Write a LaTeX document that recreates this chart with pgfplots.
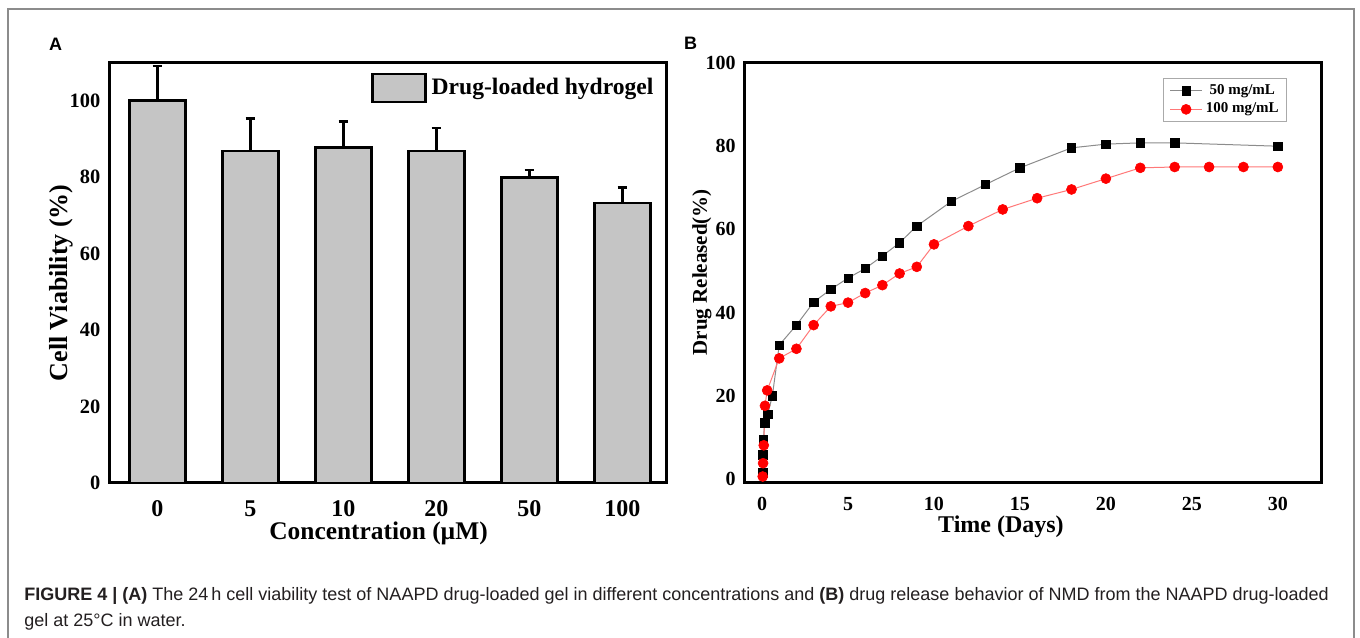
\documentclass[border=0pt]{standalone}
\usepackage{fontspec}
\setmainfont{Liberation Serif}
\newfontfamily\capfont{Liberation Sans}
\usepackage{pgfplots}
\pgfplotsset{compat=1.18}
\definecolor{bargray}{RGB}{197,197,197}
\definecolor{framegray}{RGB}{140,140,140}
\definecolor{capcol}{RGB}{35,31,32}
\definecolor{linegray}{RGB}{140,140,140}
\definecolor{linered}{RGB}{255,120,120}
\definecolor{legframe}{RGB}{170,170,170}
\begin{document}
\begin{tikzpicture}
\path[use as bounding box, fill=white] (0,0) rectangle (680bp,319bp);
\draw[framegray, line width=0.75bp] (4bp,-2bp) -- (4bp,314.5bp) -- (677bp,314.5bp) -- (677bp,-2bp);
\node[font=\capfont\bfseries\fontsize{9bp}{10bp}\selectfont, inner sep=0] at (27.75bp,297bp) {A};
\node[font=\capfont\bfseries\fontsize{9bp}{10bp}\selectfont, inner sep=0] at (345.25bp,297.25bp) {B};

% Panel A
\begin{axis}[
  at={(54.5bp,77.5bp)}, anchor=south west, scale only axis,
  width=278.5bp, height=210.25bp,
  xmin=-0.52, xmax=5.47, ymin=0, ymax=110,
  axis line style={line width=1.5bp},
  major tick length=0,
  ytick={0,20,40,60,80,100},
  xtick={0,1,2,3,4,5}, xticklabels={0,5,10,20,50,100},
  /pgf/number format/assume math mode=true,
  xticklabel style={font=\bfseries\fontsize{12bp}{14bp}\selectfont, inner sep=0, anchor=north, yshift=-8.5bp},
  yticklabel style={font=\bfseries\fontsize{10.2bp}{12bp}\selectfont, inner sep=0, anchor=east, xshift=-4.2bp},
  xlabel={Concentration (µM)},
  ylabel={Cell Viability (\%)},
  xlabel style={font=\bfseries\fontsize{12.7bp}{15bp}\selectfont, at={(axis description cs:0.484,-0.119)}, anchor=center, inner sep=0},
  ylabel style={font=\bfseries\fontsize{13bp}{15bp}\selectfont, at={(axis description cs:-0.086,0.476)}, anchor=center, inner sep=0, rotate=0},
  legend style={draw=none, fill=none, at={(axis description cs:0.47,0.939)}, anchor=west, inner sep=0,
    nodes={inner sep=0, font=\bfseries\fontsize{11.8bp}{14bp}\selectfont},
    /tikz/every odd column/.append style={column sep=2.5bp}},
  legend image code/.code={\draw[#1] (0bp,-7bp) rectangle (26.5bp,7bp);},
]
\addplot[ybar, bar width=28bp, fill=bargray, draw=black, line width=1.25bp,
  error bars/.cd, y dir=plus, y explicit, error mark=|,
  error bar style={line width=1.25bp, black},
  error mark options={line width=1.25bp, mark size=2.4bp, black}]
coordinates {
 (0,100) +- (0,9.1)
 (1,86.8) +- (0,8.5)
 (2,87.8) +- (0,6.8)
 (3,86.8) +- (0,6.1)
 (4,79.9) +- (0,2.0)
 (5,73.3) +- (0,4.0)
};
\addlegendentry{Drug-loaded hydrogel}
\end{axis}

% Panel B
\begin{axis}[
  at={(372.25bp,77.5bp)}, anchor=south west, scale only axis,
  width=288.5bp, height=210bp,
  xmin=-1.02, xmax=32.54, ymin=-0.96, ymax=100,
  axis line style={line width=1.5bp},
  major tick length=0,
  xtick={0,5,10,15,20,25,30},
  ytick={0,20,40,60,80,100},
  /pgf/number format/assume math mode=true,
  xticklabel style={font=\bfseries\fontsize{10bp}{12bp}\selectfont, inner sep=0, anchor=north, yshift=-7bp},
  yticklabel style={font=\bfseries\fontsize{10bp}{12bp}\selectfont, inner sep=0, anchor=east, xshift=-4.25bp},
  xlabel={Time (Days)},
  ylabel={Drug Released(\%)},
  xlabel style={font=\bfseries\fontsize{12bp}{14bp}\selectfont, at={(axis description cs:0.4445,-0.105)}, anchor=center, inner sep=0},
  ylabel style={font=\bfseries\fontsize{10.5bp}{12bp}\selectfont, at={(axis description cs:-0.0737,0.502)}, anchor=center, inner sep=0},
  legend style={draw=legframe, line width=0.6bp, fill=white, at={(axis description cs:0.7253,0.964)}, anchor=north west,
    inner xsep=3bp, inner ysep=2bp, row sep=1.2bp,
    nodes={inner sep=0.8bp, font=\bfseries\fontsize{7.5bp}{9bp}\selectfont},
    /tikz/every odd column/.append style={column sep=0.8bp},
    /tikz/every even column/.append style={column sep=2.5bp}},
  legend image code/.code={\draw[mark repeat=2, mark phase=2, #1] plot coordinates {(0bp,0bp) (8bp,0bp) (16bp,0bp)};},
]
\addplot[color=linegray, line width=0.5bp, mark=square*, mark size=2.1bp,
  mark options={fill=black, draw=black, line width=0.3bp}]
coordinates {
 (0.04,1.5) (0.04,5.8) (0.08,9.5) (0.15,13.5) (0.33,15.5) (0.6,20.0)
 (1,32.2) (2,37.0) (3,42.5) (4,45.6) (5,48.3) (6,50.6) (7,53.6) (8,56.8)
 (9,60.8) (11,66.7) (13,70.8) (15,74.8) (18,79.6) (20,80.5) (22,80.8)
 (24,80.8) (30,80.0)
};
\addlegendentry{50 mg/mL}
\addplot[color=linered, line width=0.5bp, mark=*, mark size=2.5bp,
  mark options={fill=red, draw=red, line width=0.3bp}]
coordinates {
 (0.04,0.6) (0.06,3.8) (0.1,8.1) (0.17,17.6) (0.3,21.3)
 (1,29.0) (2,31.3) (3,37.0) (4,41.5) (5,42.4) (6,44.7) (7,46.6) (8,49.4)
 (9,51.0) (10,56.4) (12,60.8) (14,64.8) (16,67.5) (18,69.6) (20,72.2)
 (22,74.8) (24,75.0) (26,75.0) (28,75.0) (30,75.0)
};
\addlegendentry{100 mg/mL}
\end{axis}

\node[anchor=base west, inner sep=0, font=\capfont\fontsize{9bp}{10bp}\selectfont, text=capcol] at (12bp,19bp)
 {\textbf{FIGURE 4 | (A)} The 24\,h cell viability test of NAAPD drug-loaded gel in different concentrations and \textbf{(B)} drug release behavior of NMD from the NAAPD drug-loaded};
\node[anchor=base west, inner sep=0, font=\capfont\fontsize{9bp}{10bp}\selectfont, text=capcol] at (12bp,6bp)
 {gel at 25°C in water.};
\end{tikzpicture}
\end{document}
